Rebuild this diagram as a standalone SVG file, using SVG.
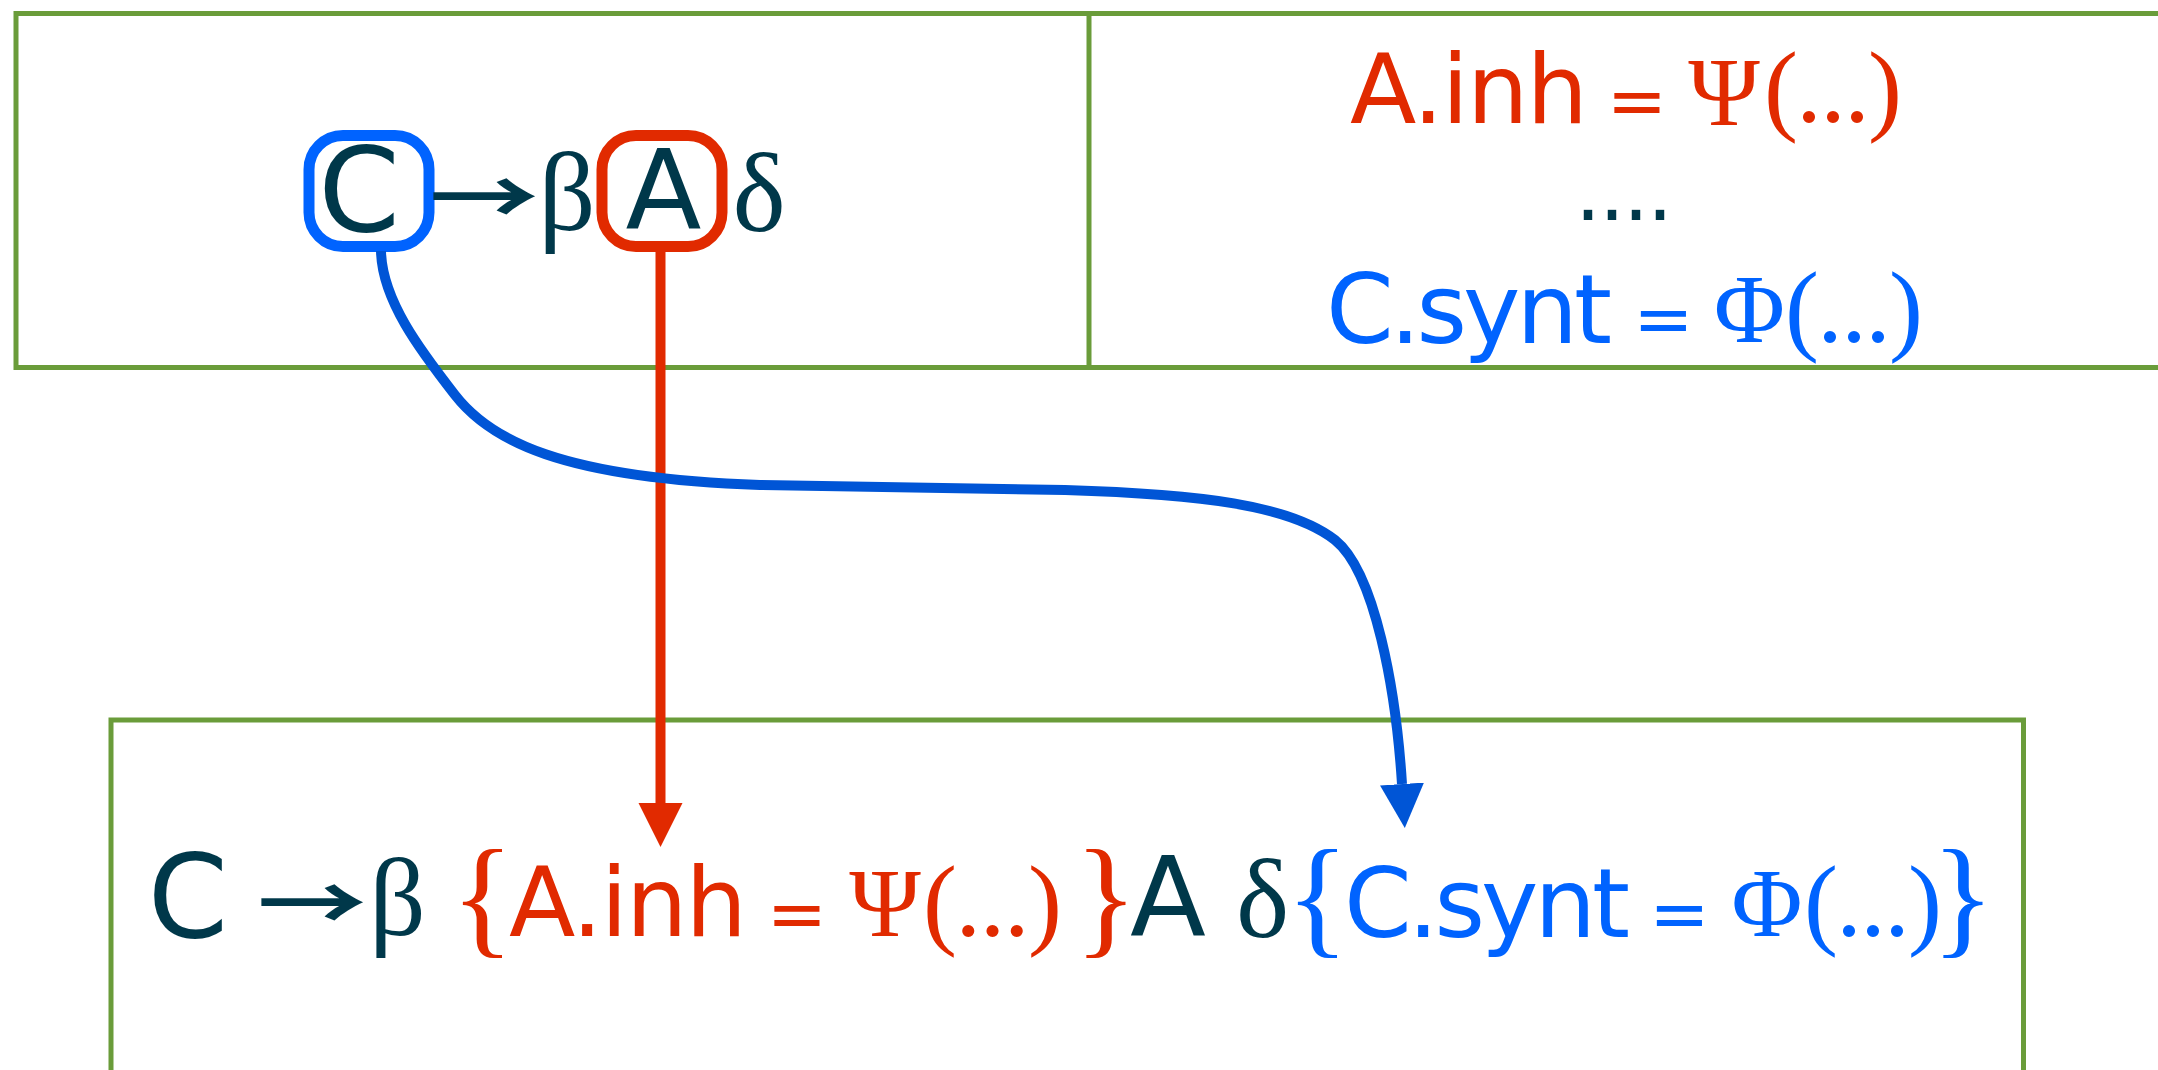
<svg xmlns="http://www.w3.org/2000/svg" width="2158" height="1070" viewBox="0 0 2158 1070">
<defs>
<style>
.frame{fill:none;stroke:#6a9c3a;stroke-width:5}
.sans{font-family:"DejaVu Sans","Liberation Sans",sans-serif}
.serif{font-family:"Liberation Serif","DejaVu Serif",serif}
.arr{font-family:"Noto Sans CJK SC","DejaVu Sans",sans-serif;font-weight:bold}
.dark{fill:#00384a}
.red{fill:#e12a00}
.blue{fill:#0063ff}
.mid{text-anchor:middle}
</style>
<marker id="headRed" markerUnits="userSpaceOnUse" markerWidth="46" markerHeight="46" refX="0" refY="22" orient="auto" viewBox="0 0 46 46">
<path d="M0,0 L44,22 L0,44 z" fill="#e12a00"/>
</marker>
<marker id="headBlue" markerUnits="userSpaceOnUse" markerWidth="46" markerHeight="46" refX="0" refY="22" orient="auto" viewBox="0 0 46 46">
<path d="M0,0 L44,22 L0,44 z" fill="#0055d6"/>
</marker>
</defs>
<rect width="2158" height="1070" fill="#ffffff"/>

<g id="top-panel">
<rect class="frame" x="16" y="13.5" width="2200" height="354"/>
<line class="frame" x1="1089" y1="13.5" x2="1089" y2="367.5"/>
</g>

<g id="bottom-panel">
<rect class="frame" x="111" y="720" width="1912.5" height="400"/>
</g>

<g id="node-C">
<rect x="309" y="135.5" width="120" height="111" rx="34" fill="none" stroke="#0063ff" stroke-width="11"/>
<text class="sans dark mid" x="359" y="231" font-size="117">C</text>
</g>

<g id="production-top">
<text class="arr dark" x="429" y="225" font-size="75" textLength="110" lengthAdjust="spacingAndGlyphs">→</text>
<text class="serif dark mid" x="567" y="230" font-size="112">β</text>
<text class="serif dark mid" x="759" y="231" font-size="113">δ</text>
</g>

<g id="node-A">
<rect x="602" y="135.5" width="120" height="111" rx="34" fill="none" stroke="#e12a00" stroke-width="11"/>
<text class="sans dark mid" x="663.5" y="229" font-size="111">A</text>
</g>

<g id="rules-top">
<text class="sans red" y="123" font-size="97"><tspan x="1350" textLength="238">A.inh</tspan><tspan x="1600"> </tspan><tspan class="mid" x="1637" y="125" font-size="72">=</tspan><tspan x="1670"> </tspan><tspan class="serif mid" x="1724">Ψ</tspan><tspan class="serif" x="1764" y="122" font-size="102" textLength="138">(...)</tspan></text>
<text class="sans dark" x="1575 1599 1623 1647" y="220" font-size="82">....</text>
<text class="sans blue" y="343" font-size="97"><tspan x="1326" textLength="286">C.synt</tspan><tspan x="1625"> </tspan><tspan class="mid" x="1663.5" font-size="72">=</tspan><tspan x="1695"> </tspan><tspan class="serif mid" x="1749.5" y="342">Φ</tspan><tspan class="serif" x="1785" y="342" font-size="102" textLength="138">(...)</tspan></text>
</g>

<g id="production-bottom">
<text class="dark" y="937" font-size="97"><tspan class="sans mid" x="188" font-size="115">C</tspan><tspan class="sans" x="235"> </tspan><tspan class="arr" x="257" y="931" font-size="75" textLength="110" lengthAdjust="spacingAndGlyphs">→</tspan><tspan class="serif mid" x="397.5" y="935" font-size="111">β</tspan><tspan class="sans" x="440"> </tspan><tspan class="serif red mid" x="482.5" y="940" font-size="131">{</tspan><tspan class="sans red" x="509" y="936" textLength="238">A.inh</tspan><tspan class="sans" x="750"> </tspan><tspan class="sans red mid" x="797" y="938" font-size="72">=</tspan><tspan class="sans" x="830"> </tspan><tspan class="serif red mid" x="885" y="936">Ψ</tspan><tspan class="serif red" x="923" y="936" font-size="102" textLength="139">(...)</tspan><tspan class="sans" x="1070"> </tspan><tspan class="serif red mid" x="1106" y="940" font-size="131">}</tspan><tspan class="sans mid" x="1168" y="936" font-size="111">A</tspan><tspan class="sans" x="1215"> </tspan><tspan class="serif mid" x="1262.5" y="937" font-size="113">δ</tspan><tspan class="serif blue mid" x="1317.5" y="940" font-size="131">{</tspan><tspan class="sans blue" x="1344" y="937" textLength="286">C.synt</tspan><tspan class="sans" x="1640"> </tspan><tspan class="sans blue mid" x="1679.5" y="938" font-size="72">=</tspan><tspan class="sans" x="1710"> </tspan><tspan class="serif blue mid" x="1767" y="936">Φ</tspan><tspan class="serif blue" x="1804" y="936" font-size="102" textLength="138">(...)</tspan><tspan class="serif blue mid" x="1963" y="940" font-size="131">}</tspan></text>
</g>

<g id="connectors">
<path d="M660.5,251 L660.5,803" fill="none" stroke="#e12a00" stroke-width="10" marker-end="url(#headRed)"/>
<path d="M381,251 C382,300 420,350 455,395 C490,440 560,478 760,485 C900,487 1000,488 1065,490 C1200,494 1290,505 1335,540 C1375,572 1396,690 1402,784" fill="none" stroke="#0055d6" stroke-width="10" marker-end="url(#headBlue)"/>
</g>
</svg>
